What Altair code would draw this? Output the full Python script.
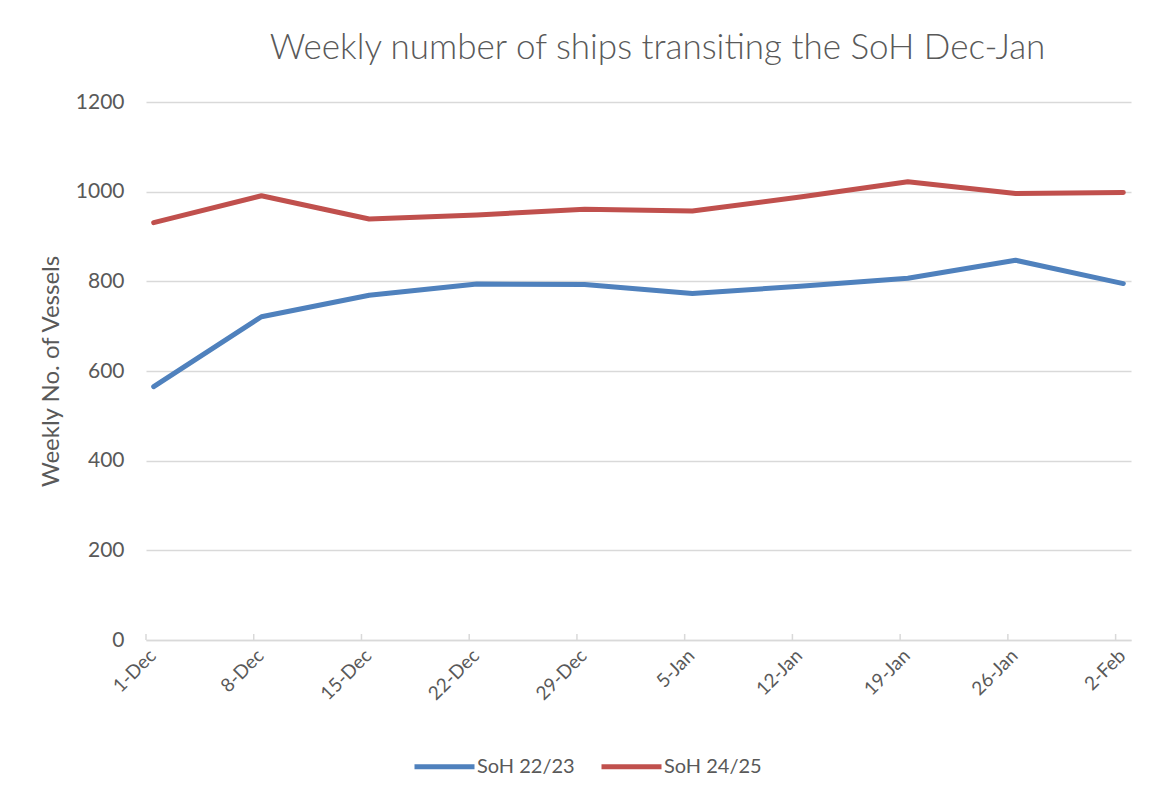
import altair as alt
import pandas as pd

# ---- data ----
week_labels = ["1-Dec", "8-Dec", "15-Dec", "22-Dec", "29-Dec",
               "5-Jan", "12-Jan", "19-Jan", "26-Jan", "2-Feb"]
week_dates = ["2024-12-01", "2024-12-08", "2024-12-15", "2024-12-22", "2024-12-29",
              "2025-01-05", "2025-01-12", "2025-01-19", "2025-01-26", "2025-02-02"]
soh_2223 = [565, 721, 769, 794, 793, 773, 789, 807, 847, 795]
soh_2425 = [931, 991, 939, 948, 961, 957, 988, 1022, 996, 998]
series_names = ["SoH 22/23", "SoH 24/25"]
series_colors = ["#4F81BD", "#C0504D"]
y_ticks = [0, 200, 400, 600, 800, 1000, 1200]

DAY_MS = 86400000
tick_ms = [int(pd.Timestamp(d, tz="UTC").value // 10**6) for d in week_dates]
# Excel date axis: each point sits in the middle of its day
rows = []
for name, vals in zip(series_names, [soh_2223, soh_2425]):
    for t, v in zip(tick_ms, vals):
        rows.append({"date": t + DAY_MS // 2, "series": name, "vessels": v})
df = pd.DataFrame(rows)
ticks_df = pd.DataFrame({"date": tick_ms})

FONT = "Lato"
TXT = "#595959"
GRID = "#d9d9d9"
W, H = 985, 538

x_enc = alt.X(
    "date:T",
    scale=alt.Scale(type="utc", domain=[tick_ms[0], tick_ms[-1] + DAY_MS]),
    axis=alt.Axis(
        values=tick_ms,
        labelExpr="utcFormat(datum.value, '%-d-%b')",
        labelAngle=-45,
        labelFontSize=19,
        labelColor=TXT,
        labelFont=FONT,
        labelPadding=6,
        ticks=False,
        grid=False,
        domainColor=GRID,
        domainWidth=1.5,
        title=None,
        labelOverlap=False,
    ),
)

tick_layer = alt.Chart(ticks_df).mark_rule(color=GRID, strokeWidth=1.5).encode(
    x=x_enc,
    y=alt.value(H - 6),
    y2=alt.value(H),
)

lines = alt.Chart(df).mark_line(strokeWidth=5, strokeCap="round", strokeJoin="round").encode(
    x=x_enc,
    y=alt.Y(
        "vessels:Q",
        scale=alt.Scale(domain=[0, 1200], nice=False),
        axis=alt.Axis(
            values=y_ticks,
            format="d",
            grid=True,
            gridColor=GRID,
            gridWidth=1.5,
            domain=False,
            ticks=False,
            labelPadding=22,
            labelFontSize=21,
            labelColor=TXT,
            labelFont=FONT,
            title="Weekly No. of Vessels",
            titleFontSize=24,
            titleFontWeight="normal",
            titleColor=TXT,
            titleFont=FONT,
            titlePadding=12,
        ),
    ),
    color=alt.Color(
        "series:N",
        scale=alt.Scale(domain=series_names, range=series_colors),
        legend=alt.Legend(
            title=None,
            orient="none",
            direction="horizontal",
            legendX=266,
            legendY=632,
            symbolType="stroke",
            symbolSize=3600,
            symbolStrokeWidth=5,
            labelFontSize=20,
            labelColor=TXT,
            labelFont=FONT,
            labelOffset=0,
            columnPadding=16,
        ),
    ),
    detail="series:N",
)

chart = alt.layer(tick_layer, lines).properties(
    width=W,
    height=H,
    title=alt.TitleParams(
        "Weekly number of ships transiting the SoH Dec-Jan",
        fontSize=35,
        font=FONT,
        fontWeight=300,
        color=TXT,
        anchor="middle",
        dx=19,
        offset=25,
    ),
    padding={"left": 138, "top": 94, "right": 25, "bottom": 152},
    autosize=alt.AutoSizeParams(type="none"),
    background="white",
).configure_view(stroke=None)

chart.save("out.html", embed_options={"renderer": "svg", "actions": False})
